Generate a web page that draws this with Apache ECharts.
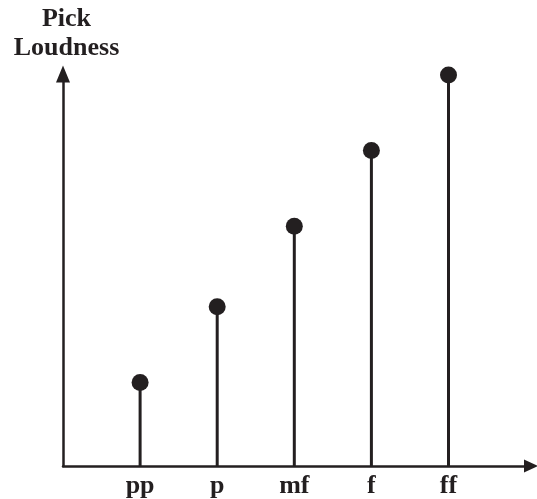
<!DOCTYPE html>
<html>
<head>
<meta charset="utf-8">
<script src="https://cdn.jsdelivr.net/npm/echarts@6/dist/echarts.min.js"></script>
<style>html,body{margin:0;padding:0;background:#fff}#c{width:537px;height:499px}</style>
</head>
<body>
<div id="c"></div>
<script>
var categories = ['pp', 'p', 'mf', 'f', 'ff'];
var positions = [1, 2, 3, 4, 5];
var loudness = [84, 160, 241, 317, 393];
var yMax = 394;
var xMax = 6.07;
var ink = '#231f20';
var font = '"Liberation Serif", "Times New Roman", serif';

var pts = positions.map(function (p, i) { return [p, loudness[i]]; });

var chart = echarts.init(document.getElementById('c'), null, {renderer: 'canvas'});
chart.setOption({
  animation: false,
  backgroundColor: '#ffffff',
  grid: {left: 63, top: 74, width: 468, bottom: 31, containLabel: false},
  xAxis: {
    type: 'value', min: 0, max: xMax, interval: 1,
    splitLine: {show: false},
    axisTick: {show: false},
    axisLine: {show: true, lineStyle: {color: ink, width: 2.5}, symbol: ['none', 'triangle'], symbolSize: [13, 14]},
    axisLabel: {
      margin: 7,
      color: ink, fontFamily: font, fontWeight: 'bold', fontSize: 26,
      formatter: function (v) {
        var i = positions.indexOf(v);
        return i >= 0 ? categories[i] : '';
      }
    }
  },
  yAxis: {
    type: 'value', min: 0, max: yMax,
    name: 'Pick\nLoudness',
    nameLocation: 'end',
    nameGap: 11,
    nameTextStyle: {color: ink, fontFamily: font, fontWeight: 'bold', fontSize: 26, lineHeight: 29, align: 'center', padding: [0, 0, 0, 7]},
    splitLine: {show: false},
    axisTick: {show: false},
    axisLabel: {show: false},
    axisLine: {show: true, lineStyle: {color: ink, width: 2.5}, symbol: ['none', 'triangle'], symbolSize: [14, 17]}
  },
  series: [
    {
      type: 'bar', data: pts, barWidth: 3, z: 2,
      itemStyle: {color: ink, opacity: 1}, silent: true
    },
    {
      type: 'scatter', data: pts, symbol: 'circle', symbolSize: 17, z: 5,
      itemStyle: {color: ink, opacity: 1}, silent: true
    }
  ]
});
</script>
</body>
</html>
